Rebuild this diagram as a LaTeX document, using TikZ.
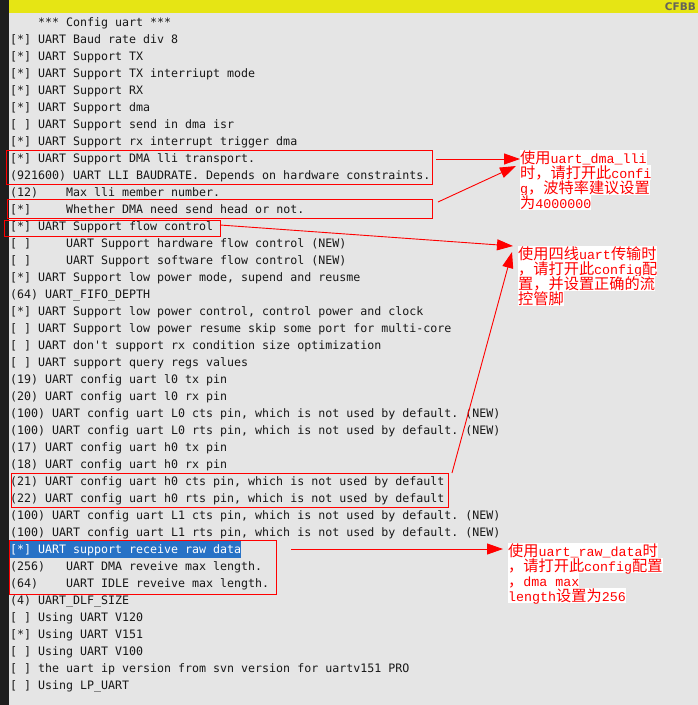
\documentclass[tikz,border=0pt]{standalone}
\usepackage{fontspec}
\setmonofont{DejaVu Sans Mono}
\newfontfamily\cjkfont{Noto Sans CJK SC}
\newfontfamily\rlatfont{Liberation Mono}
\newfontfamily\barfont{DejaVu Sans}
\usetikzlibrary{arrows.meta}
\definecolor{bgc}{RGB}{229,229,229}
\definecolor{barc}{RGB}{230,229,20}
\definecolor{stripc}{RGB}{30,30,30}
\definecolor{txtc}{RGB}{24,24,24}
\definecolor{selc}{RGB}{40,114,198}
\definecolor{cfbbc}{RGB}{100,100,90}
\newcommand\zh[1]{{\cjkfont\fontsize{15.2pt}{15pt}\selectfont #1}}
\begin{document}
\begin{tikzpicture}[x=1pt,y=-1pt,
  ln/.style={anchor=base west, inner sep=0pt, text=txtc,
    font=\ttfamily\fontsize{11.63pt}{17pt}\selectfont},
  redbox/.style={draw=red, line width=1.2pt, inner sep=0pt, anchor=north west},
  notel/.style={fill=white, text=red, inner sep=0pt, anchor=north west,
    text height=12.8pt, text depth=2.2pt,
    font=\rlatfont\fontsize{13.33pt}{15pt}\selectfont},
  arr/.style={draw=red, line width=0.9pt, -{Triangle[length=16pt,width=11pt]}}]
\useasboundingbox (0,0) rectangle (698,705);
\fill[bgc] (0,0) rectangle (698,705);
\fill[stripc] (0,0) rectangle (9,705);
\fill[barc] (9,0) rectangle (698,13.3);
\node[anchor=east, inner sep=0pt, text=cfbbc, font=\barfont\bfseries\fontsize{10.5pt}{12pt}\selectfont] (cfbb) at (696,6.8) {CFBB};
% selection highlight
\fill[selc] (10,541) rectangle (241,558);
% main text lines
\node[ln] (l0) at (10,26.8) {~~~~*** Config uart ***};
\node[ln] (l1) at (10,43.8) {[*] UART Baud rate div 8};
\node[ln] (l2) at (10,60.8) {[*] UART Support TX};
\node[ln] (l3) at (10,77.8) {[*] UART Support TX interriupt mode};
\node[ln] (l4) at (10,94.8) {[*] UART Support RX};
\node[ln] (l5) at (10,111.8) {[*] UART Support dma};
\node[ln] (l6) at (10,128.8) {[~] UART Support send in dma isr};
\node[ln] (l7) at (10,145.8) {[*] UART Support rx interrupt trigger dma};
\node[ln] (l8) at (10,162.8) {[*] UART Support DMA lli transport.};
\node[ln] (l9) at (10,179.8) {(921600) UART LLI BAUDRATE. Depends on hardware constraints.};
\node[ln] (l10) at (10,196.8) {(12)~~~~Max lli member number.};
\node[ln] (l11) at (10,213.8) {[*]~~~~~Whether DMA need send head or not.};
\node[ln] (l12) at (10,230.8) {[*] UART Support flow control};
\node[ln] (l13) at (10,247.8) {[~]~~~~~UART Support hardware flow control (NEW)};
\node[ln] (l14) at (10,264.8) {[~]~~~~~UART Support software flow control (NEW)};
\node[ln] (l15) at (10,281.8) {[*] UART Support low power mode, supend and reusme};
\node[ln] (l16) at (10,298.8) {(64) UART\_FIFO\_DEPTH};
\node[ln] (l17) at (10,315.8) {[*] UART Support low power control, control power and clock};
\node[ln] (l18) at (10,332.8) {[~] UART Support low power resume skip some port for multi-core};
\node[ln] (l19) at (10,349.8) {[~] UART don't support rx condition size optimization};
\node[ln] (l20) at (10,366.8) {[~] UART support query regs values};
\node[ln] (l21) at (10,383.8) {(19) UART config uart l0 tx pin};
\node[ln] (l22) at (10,400.8) {(20) UART config uart l0 rx pin};
\node[ln] (l23) at (10,417.8) {(100) UART config uart L0 cts pin, which is not used by default. (NEW)};
\node[ln] (l24) at (10,434.8) {(100) UART config uart L0 rts pin, which is not used by default. (NEW)};
\node[ln] (l25) at (10,451.8) {(17) UART config uart h0 tx pin};
\node[ln] (l26) at (10,468.8) {(18) UART config uart h0 rx pin};
\node[ln] (l27) at (10,485.8) {(21) UART config uart h0 cts pin, which is not used by default};
\node[ln] (l28) at (10,502.8) {(22) UART config uart h0 rts pin, which is not used by default};
\node[ln] (l29) at (10,519.8) {(100) UART config uart L1 cts pin, which is not used by default. (NEW)};
\node[ln] (l30) at (10,536.8) {(100) UART config uart L1 rts pin, which is not used by default. (NEW)};
\node[ln, text=white] (l31) at (10,553.8) {[*] UART support receive raw data};
\node[ln] (l32) at (10,570.8) {(256)~~~UART DMA reveive max length.};
\node[ln] (l33) at (10,587.8) {(64)~~~~UART IDLE reveive max length.};
\node[ln] (l34) at (10,604.8) {(4) UART\_DLF\_SIZE};
\node[ln] (l35) at (10,621.8) {[~] Using UART V120};
\node[ln] (l36) at (10,638.8) {[*] Using UART V151};
\node[ln] (l37) at (10,655.8) {[~] Using UART V100};
\node[ln] (l38) at (10,672.8) {[~] the uart ip version from svn version for uartv151 PRO};
\node[ln] (l39) at (10,689.8) {[~] Using LP\_UART};
% red boxes
\node[redbox, minimum width=426pt, minimum height=34pt] (b1) at (6,150) {};
\node[redbox, minimum width=425pt, minimum height=19pt] (b2) at (7,199) {};
\node[redbox, minimum width=216pt, minimum height=16pt] (b3) at (4,220) {};
\node[redbox, minimum width=437pt, minimum height=34pt] (b4) at (11,473) {};
\node[redbox, minimum width=267pt, minimum height=54pt] (b5) at (9,540) {};
% notes
\node[notel] (n1a) at (520,150) {\zh{使用}uart\_dma\_lli};
\node[notel] (n1b) at (520,165) {\zh{时，请打开此}confi};
\node[notel] (n1c) at (520,180) {g\zh{，波特率建议设置}};
\node[notel] (n1d) at (520,195) {\zh{为}4000000};
\node[notel] (n2a) at (518,246) {\zh{使用四线}uart\zh{传输时}};
\node[notel] (n2b) at (518,261) {\zh{，请打开此}config\zh{配}};
\node[notel] (n2c) at (518,276) {\zh{置，并设置正确的流}};
\node[notel] (n2d) at (518,291) {\zh{控管脚}};
\node[notel] (n3a) at (508,543) {\zh{使用}uart\_raw\_data\zh{时}};
\node[notel] (n3b) at (508,558) {\zh{，请打开此}config\zh{配置}};
\node[notel] (n3c) at (508,573) {\zh{，}dma max};
\node[notel] (n3d) at (508,588) {length\zh{设置为}256};
% arrow end points
\coordinate (s1) at (436,159);
\coordinate (t1) at (520,159);
\coordinate (s2) at (438,202);
\coordinate (t2) at (516,166);
\coordinate (s3) at (220,225);
\coordinate (t3) at (513,246);
\coordinate (s4) at (452,473);
\coordinate (t4) at (512,252);
\coordinate (s5) at (291,549);
\coordinate (t5) at (503,549);
\draw[arr] (s1) -- (t1);
\draw[arr] (s2) -- (t2);
\draw[arr] (s3) -- (t3);
\draw[arr] (s4) -- (t4);
\draw[arr] (s5) -- (t5);
\end{tikzpicture}
\end{document}
